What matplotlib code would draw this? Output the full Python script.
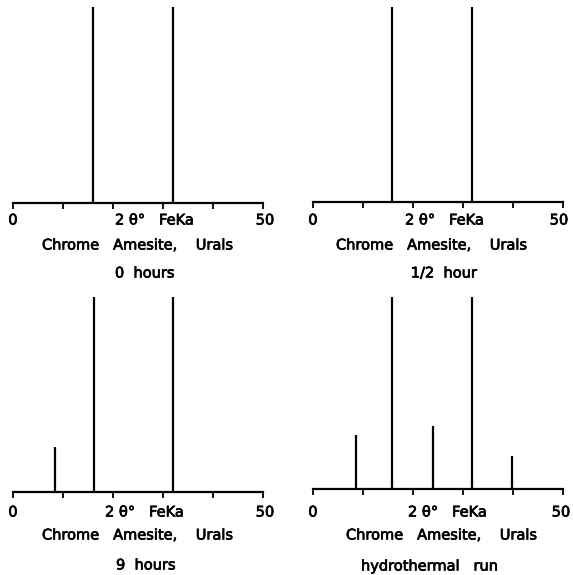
import matplotlib
matplotlib.use("Agg")
import matplotlib.pyplot as plt
import matplotlib.patheffects as pe

W, H = 573, 575

# ---- data ----
x_ticks = [0, 10, 20, 30, 40, 50]
run_labels = ["0  hours", "1/2  hour", "9  hours", "hydrothermal   run"]
sample_label = "Chrome   Amesite,    Urals"
axis_label = "2 θ°   FeKa"

peaks_0h = [16.0, 31.9]
heights_0h = [1.0, 1.0]
peaks_half = [15.8, 31.8]
heights_half = [1.0, 1.0]
peaks_9h = [8.4, 16.2, 31.9]
heights_9h = [0.23, 1.0, 1.0]
peaks_hydro = [8.5, 15.8, 24.0, 31.8, 39.8]
heights_hydro = [0.28, 1.0, 0.33, 1.0, 0.17]

series = [(peaks_0h, heights_0h), (peaks_half, heights_half),
          (peaks_9h, heights_9h), (peaks_hydro, heights_hydro)]

# ---- layout (pixels) ----
boxes = [(13, 263, 203, 7), (313, 563, 202, 7),
         (13, 263, 492, 297), (313, 563, 489, 297)]
texts = [(13, 115, 265, 220, 138, 245, 145, 273),
         (313, 405, 559, 220, 432, 245, 444, 273),
         (13, 105, 265, 512, 138, 535, 146, 565),
         (313, 408, 561, 512, 442, 535, 430, 566)]

plt.rcParams["font.family"] = ["DejaVu Sans"]
fig = plt.figure(figsize=(W / 100, H / 100), dpi=100)
fig.patch.set_facecolor("white")
fs = 10.5
effects = [pe.withStroke(linewidth=0.5, foreground="black")]

def fx(px):
    return px / W

def fy(py):
    return 1 - py / H

for (pos, hts), (x0, x1, yb, yt), t, run in zip(series, boxes, texts, run_labels):
    ax = fig.add_axes([fx(x0), fy(yb), (x1 - x0) / W, (yb - yt) / H])
    ax.set_xlim(0, 50)
    ax.set_ylim(0, 1)
    ax.vlines(pos, 0, hts, colors="black", linewidth=1.6, clip_on=True)
    for s in ["top", "right", "left"]:
        ax.spines[s].set_visible(False)
    ax.spines["bottom"].set_linewidth(1.6)
    ax.set_yticks([])
    ax.set_xticks(x_ticks)
    ax.set_xticklabels([])
    ax.tick_params(axis="x", direction="out", length=4, width=1.3)
    ax.patch.set_alpha(0)

    x_zero, x_lab, x_fifty, y_num, x_s, y_s, x_r, y_r = t
    kw = dict(va="center", fontsize=fs, path_effects=effects)
    fig.text(fx(x_zero), fy(y_num), "0", ha="center", **kw)
    fig.text(fx(x_lab), fy(y_num), axis_label, ha="left", **kw)
    fig.text(fx(x_fifty), fy(y_num), "50", ha="center", **kw)
    fig.text(fx(x_s), fy(y_s), sample_label, ha="center", **kw)
    fig.text(fx(x_r), fy(y_r), run, ha="center", **kw)

fig.savefig("out.png", dpi=100, facecolor="white")
